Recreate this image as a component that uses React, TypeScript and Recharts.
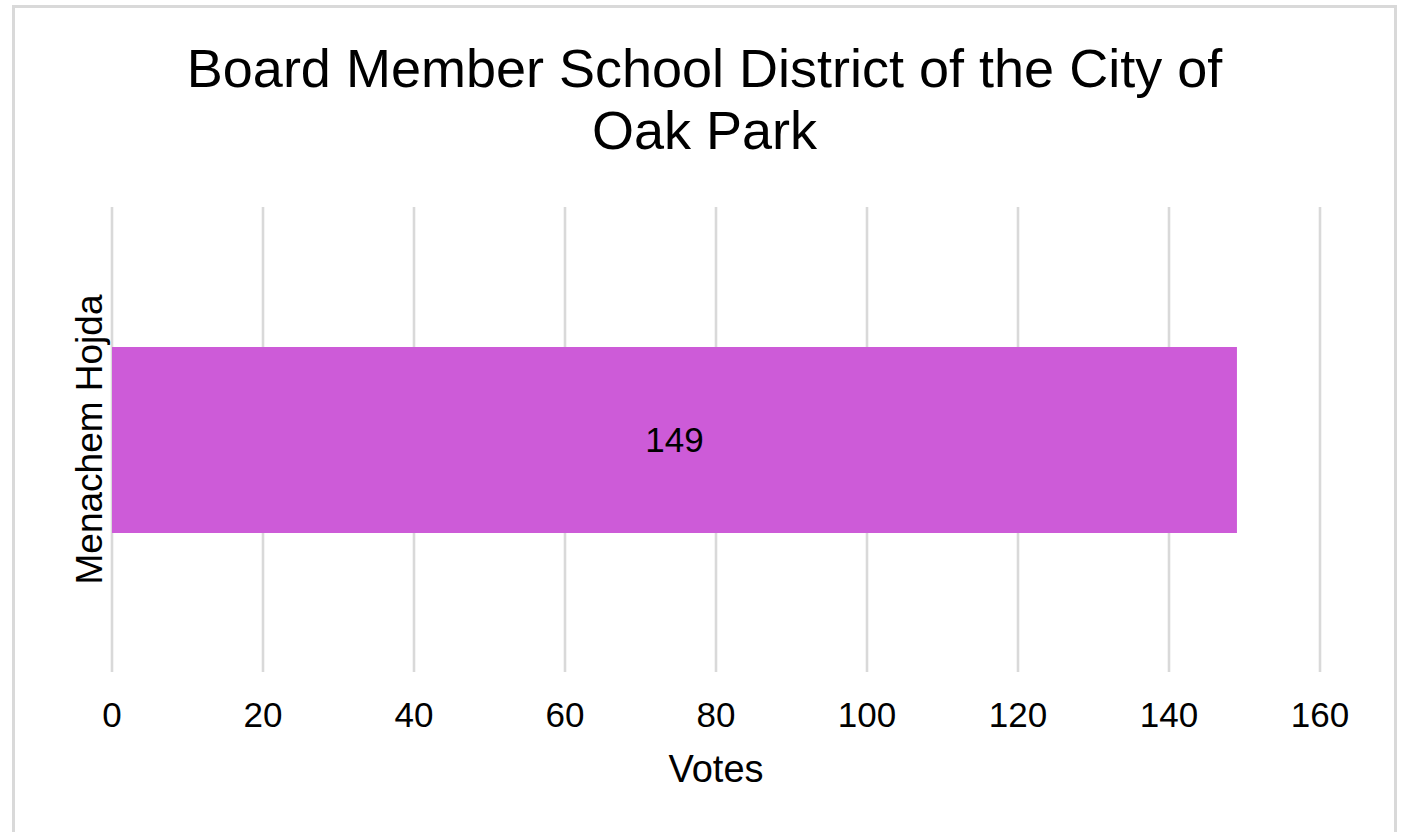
import React from 'react';
import { BarChart, Bar, XAxis, YAxis, CartesianGrid, LabelList } from 'recharts';

const candidates = ['Menachem Hojda'];
const votes = [149];
const xTicks = [0, 20, 40, 60, 80, 100, 120, 140, 160];

const FONT = '"Liberation Sans", Arial, sans-serif';
const GRID = '#d9d9d9';
const BAR_COLOR = '#CD5BD8';

const data = candidates.map((name, i) => ({ name, votes: votes[i] }));

// rotated category label, baseline on the right side of the text
const CategoryTick = (props: any) => {
  const { y, payload } = props;
  const bx = 102;
  return (
    <text
      x={bx}
      y={y}
      transform={`rotate(-90, ${bx}, ${y})`}
      textAnchor="middle"
      fontSize={37}
      fill="#000"
      fontFamily={FONT}
    >
      {payload.value}
    </text>
  );
};

export default function App() {
  return (
    <div
      style={{
        position: 'fixed',
        left: 0,
        top: 0,
        width: 1409,
        height: 832,
        overflow: 'hidden',
        background: '#fff',
        fontFamily: FONT,
      }}
    >
      <div
        style={{
          position: 'absolute',
          left: 12,
          top: 5,
          width: 1379,
          height: 860,
          border: `3.5px solid ${GRID}`,
          boxSizing: 'content-box',
        }}
      />
      <div
        style={{
          position: 'absolute',
          left: 0,
          top: 37,
          width: 1409,
          textAlign: 'center',
          fontSize: 54,
          lineHeight: '62px',
          color: '#000',
        }}
      >
        Board Member School District of the City of
        <br />
        Oak Park
      </div>
      <div style={{ position: 'absolute', left: 0, top: 0 }}>
        <BarChart
          width={1409}
          height={832}
          data={data}
          layout="vertical"
          margin={{ top: 207, right: 89, bottom: 50, left: 12 }}
        >
          <CartesianGrid horizontal={false} stroke={GRID} strokeWidth={2.6} />
          <XAxis
            type="number"
            domain={[0, 160]}
            ticks={xTicks}
            axisLine={false}
            tickLine={false}
            tickSize={0}
            tickMargin={30}
            height={110}
            interval={0}
            tick={{ fontSize: 35, fill: '#000', fontFamily: FONT }}
            label={{
              value: 'Votes',
              position: 'insideBottom',
              offset: 0,
              fontSize: 38,
              fill: '#000',
              fontFamily: FONT,
            }}
          />
          <YAxis
            type="category"
            dataKey="name"
            width={100}
            axisLine={false}
            tickLine={false}
            tick={<CategoryTick />}
          />
          <Bar dataKey="votes" fill={BAR_COLOR} barSize={186} isAnimationActive={false}>
            <LabelList
              dataKey="votes"
              position="center"
              fill="#000"
              fontSize={35}
              fontFamily={FONT}
            />
          </Bar>
        </BarChart>
      </div>
    </div>
  );
}
